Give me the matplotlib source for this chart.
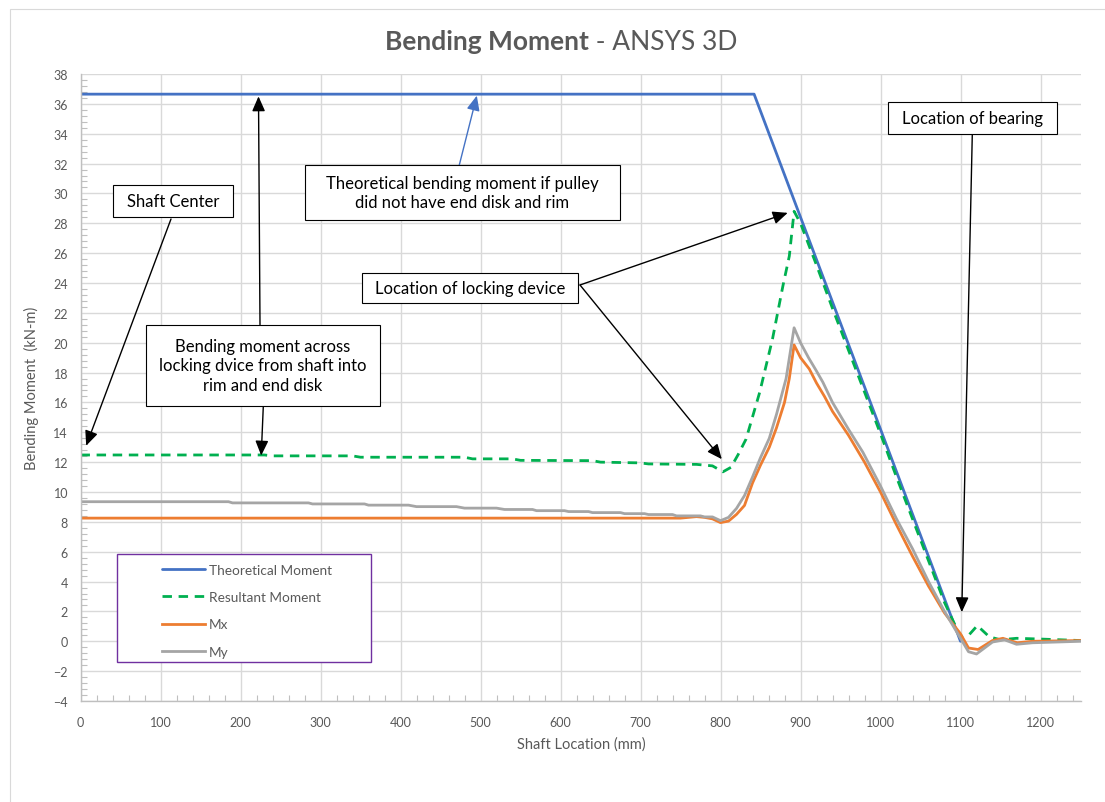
import matplotlib
matplotlib.use('Agg')
import matplotlib.pyplot as plt
from matplotlib.patches import Rectangle
from matplotlib.ticker import MultipleLocator

plt.rcParams['font.family'] = ['Lato', 'DejaVu Sans']

# data (shaft location in mm, moment in kN-m)
theo_x = [0, 842, 1100]
theo_y = [36.65, 36.65, 0.0]

res_x = [0, 230, 240, 340, 350, 480, 490, 540, 550, 640, 650, 700, 710, 770, 790, 803, 813,
         822, 832, 849, 865, 878, 886, 892, 900, 920, 940, 960, 980, 1000, 1020, 1040, 1060,
         1080, 1100, 1111, 1121, 1136, 1150, 1170, 1200, 1250]
res_y = [12.48, 12.48, 12.42, 12.42, 12.33, 12.33, 12.22, 12.22, 12.12, 12.1, 12.0, 11.95,
         11.88, 11.85, 11.75, 11.35, 11.65, 12.5, 13.55, 16.68, 20.25, 23.8, 25.8, 28.8, 28.0,
         25.2, 22.3, 19.5, 16.7, 13.9, 11.0, 8.2, 5.4, 2.6, 0.3, 0.45, 1.05, 0.3, 0.1, 0.2,
         0.15, 0.05]

mx_x = [0, 750, 770, 780, 790, 800, 810, 820, 830, 840, 850, 861, 870, 880, 886, 892, 900, 911,
        920, 930, 940, 960, 980, 1000, 1020, 1040, 1060, 1080, 1100, 1110, 1122, 1140, 1153,
        1171, 1190, 1250]
mx_y = [8.25, 8.25, 8.35, 8.3, 8.2, 7.95, 8.05, 8.5, 9.1, 10.6, 11.8, 13.0, 14.3, 16.0, 17.6,
        19.85, 19.0, 18.24, 17.3, 16.4, 15.4, 13.8, 12.0, 10.0, 7.8, 5.7, 3.7, 1.9, 0.5, -0.45,
        -0.55, 0.05, 0.2, -0.1, 0.0, 0.05]

my_x = [0, 185, 190, 285, 290, 355, 360, 410, 420, 470, 480, 520, 530, 565, 570, 605, 610, 635,
        640, 675, 680, 705, 710, 740, 745, 775, 780, 790, 800, 810, 820, 830, 840, 850, 861,
        870, 882, 892, 900, 910, 920, 928, 940, 960, 978, 1000, 1020, 1040, 1060, 1080, 1100,
        1110, 1120, 1140, 1155, 1170, 1190, 1250]
my_y = [9.35, 9.35, 9.27, 9.27, 9.2, 9.2, 9.12, 9.12, 9.02, 9.02, 8.92, 8.92, 8.83, 8.83, 8.75,
        8.75, 8.69, 8.69, 8.62, 8.62, 8.55, 8.55, 8.49, 8.49, 8.4, 8.4, 8.33, 8.33, 8.08, 8.3,
        8.9, 9.76, 11.0, 12.3, 13.6, 15.2, 17.6, 21.0, 20.0, 19.0, 18.1, 17.35, 16.0, 14.2,
        12.66, 10.4, 8.2, 6.2, 4.0, 2.0, 0.2, -0.7, -0.85, -0.05, 0.1, -0.2, -0.1, 0.0]

series_names = ['Theoretical Moment', 'Resultant Moment', 'Mx', 'My']

W, H = 1105, 803
GREY_TXT = '#595959'


def fx(px):
    return px / W


def fy(py):
    return 1 - py / H


fig = plt.figure(figsize=(W / 100, H / 100), dpi=100)
fig.add_artist(Rectangle((fx(9.5), -0.1), 1.2, fy(9.5) + 0.1, transform=fig.transFigure,
                         fill=False, edgecolor='#D9D9D9', lw=0.8, zorder=0))

ax = fig.add_axes([fx(80.5), fy(702), 1000 / W, 627 / H])
ax.set_xlim(0, 1250)
ax.set_ylim(-4, 38)

l1, = ax.plot(theo_x, theo_y, color='#4472C4', lw=2.0, solid_capstyle='round')
l2, = ax.plot(res_x, res_y, color='#00B050', lw=2.0, dashes=(3.4, 2.4))
l3, = ax.plot(mx_x, mx_y, color='#ED7D31', lw=2.0)
l4, = ax.plot(my_x, my_y, color='#A5A5A5', lw=2.0)

ax.xaxis.set_major_locator(MultipleLocator(100))
ax.xaxis.set_minor_locator(MultipleLocator(20))
ax.yaxis.set_major_locator(MultipleLocator(2))
ax.yaxis.set_minor_locator(MultipleLocator(0.4))
ax.grid(True, which='major', color='#D9D9D9', lw=1.0)
ax.set_axisbelow(True)
for s in ['top', 'right']:
    ax.spines[s].set_visible(False)
for s in ['left', 'bottom']:
    ax.spines[s].set_color('#BFBFBF')
    ax.spines[s].set_linewidth(1.0)
ax.tick_params(which='major', length=0, labelsize=9, labelcolor=GREY_TXT)
ax.tick_params(axis='x', which='major', pad=11)
ax.tick_params(axis='y', which='major', pad=9)
ax.tick_params(which='minor', direction='in', length=4, color='#BFBFBF', width=0.8)

fig.text(fx(31), fy(388), 'Bending Moment  (kN-m)', rotation=90, ha='center', va='center',
         fontsize=10.5, color=GREY_TXT)
fig.text(fx(581), fy(745), 'Shaft Location (mm)', ha='center', va='center',
         fontsize=10.5, color=GREY_TXT)

# title in two weights, centred together
t1 = fig.text(0, fy(42), 'Bending Moment', fontsize=19, fontweight='bold', color=GREY_TXT,
              va='center', ha='left')
t2 = fig.text(0, fy(42), ' - ANSYS 3D', fontsize=19, color=GREY_TXT, va='center', ha='left')
fig.canvas.draw()
r = fig.canvas.get_renderer()
w1 = t1.get_window_extent(r).width
w2 = t2.get_window_extent(r).width
x0 = 561 - (w1 + w2) / 2
t1.set_x(fx(x0))
t2.set_x(fx(x0 + w1))

# legend
fig.add_artist(Rectangle((fx(117), fy(663)), (371 - 117) / W, (663 - 555) / H,
                         transform=fig.transFigure, facecolor='white', edgecolor='#7030A0',
                         lw=1.0, zorder=4))
leg = fig.legend([l1, l2, l3, l4], series_names, loc='upper left',
                 bbox_to_anchor=(fx(162), fy(565)), bbox_transform=fig.transFigure,
                 frameon=False, borderpad=0, borderaxespad=0, handlelength=3.15,
                 handletextpad=0.28, labelspacing=1.12, fontsize=9.8, labelcolor=GREY_TXT)
leg.set_zorder(6)

# callout boxes
boxes = [
    ((112.7, 185.7, 233.3, 218.3), 'Shaft Center'),
    ((305, 166, 620, 221), 'Theoretical bending moment if pulley\ndid not have end disk and rim'),
    ((362, 274, 578.3, 304.3), 'Location of locking device'),
    ((146, 325.7, 380, 407.3), 'Bending moment across\nlocking dvice from shaft into\nrim and end disk'),
    ((888.3, 102.7, 1057.3, 135), 'Location of bearing'),
]
for (l, t, rr, b), txt in boxes:
    fig.add_artist(Rectangle((fx(l), fy(b)), (rr - l) / W, (b - t) / H, transform=fig.transFigure,
                             facecolor='white', edgecolor='black', lw=0.8, zorder=5))
    fig.text(fx((l + rr) / 2), fy((t + b) / 2), txt, ha='center', va='center', fontsize=12,
             color='black', linespacing=1.3, zorder=6)

# arrows: (tip in data coords, start in figure pixels, colour)
arrows = [
    ((7.1, 13.1), (171, 220), 'black'),
    ((495.4, 36.55), (459.3, 166), '#4472C4'),
    ((884, 28.7), (580, 286), 'black'),
    ((801.6, 12.2), (580, 286), 'black'),
    ((222.5, 36.5), (260, 325.7), 'black'),
    ((225.9, 12.44), (263.3, 407.3), 'black'),
    ((1101.6, 1.95), (972.3, 135), 'black'),
]
for tip, start, col in arrows:
    ax.annotate('', xy=tip, xycoords='data', xytext=(fx(start[0]), fy(start[1])),
                textcoords='figure fraction', annotation_clip=False,
                arrowprops=dict(arrowstyle='-|>,head_length=0.5,head_width=0.22', color=col,
                                lw=1.0, mutation_scale=18, shrinkA=0, shrinkB=0))

fig.savefig('out.png', dpi=100)
